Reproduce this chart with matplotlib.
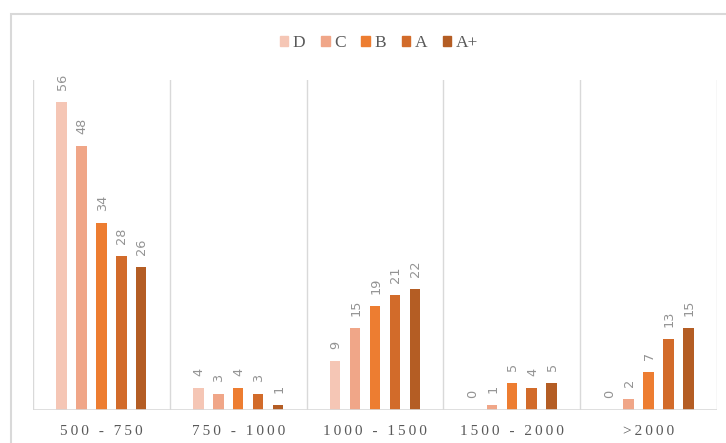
import matplotlib
matplotlib.use("Agg")
import matplotlib.pyplot as plt
from matplotlib.patches import Rectangle
import numpy as np

categories = ["500 - 750", "750 - 1000", "1000 - 1500", "1500 - 2000", ">2000"]
series = ["D", "C", "B", "A", "A+"]
values_D = [56, 4, 9, 0, 0]
values_C = [48, 3, 15, 1, 2]
values_B = [34, 4, 19, 5, 7]
values_A = [28, 3, 21, 4, 13]
values_Aplus = [26, 1, 22, 5, 15]
colors = ["#F5C6B5", "#F0A688", "#ED7D31", "#D26B2A", "#B45D24"]

all_vals = [values_D, values_C, values_B, values_A, values_Aplus]

W, H = 726, 443
fig = plt.figure(figsize=(W / 100, H / 100), dpi=100)
fig.patch.set_facecolor("white")

# outer chart border
fig.add_artist(Rectangle((11 / W, -0.05), 1.1, 1 - 14 / H + 0.05, transform=fig.transFigure,
                         fill=False, edgecolor="#D9D9D9", linewidth=1.5))

ax = fig.add_axes([33 / W, 1 - 410 / H, (717 - 33) / W, (410 - 80) / H])
ax.set_xlim(-0.5, len(categories) - 0.5)
ax.set_ylim(0, 60)
for s in ax.spines.values():
    s.set_visible(False)
ax.set_yticks([])

x = np.arange(len(categories))
step = 0.1455
bw = 0.077
for i, (name, vals, c) in enumerate(zip(series, all_vals, colors)):
    xs = x + (i - 2) * step
    ax.bar(xs, vals, width=bw, color=c, label=name, zorder=3)
    for xi, v in zip(xs, vals):
        ax.annotate(str(v), (xi, v), xytext=(0.5, 8.5), textcoords="offset points",
                    rotation=90, ha="center", va="bottom", fontsize=9.3,
                    family="DejaVu Sans", color="#939393")

# group separators and baseline
for b in np.arange(-0.5, len(categories), 1.0):
    ax.axvline(b, color="#D9D9D9", linewidth=1.0, zorder=1)
ax.axhline(0, color="#D9D9D9", linewidth=1.2, zorder=4)

def spaced(s):
    return "\u2009".join(list(s))

ax.set_xticks(x)
ax.set_xticklabels([spaced(c) for c in categories], family="Liberation Serif",
                   fontsize=11, color="#595959")
ax.tick_params(axis="x", length=0, pad=11)

handles = [Rectangle((0, 0), 1, 1, color=c) for c in colors]
fig.legend(handles, series, loc="center", bbox_to_anchor=(0.522, 1 - 43 / H), ncol=5,
           frameon=False, prop={"family": "Liberation Serif", "size": 12.5},
           labelcolor="#595959", handlelength=0.5, handleheight=0.5,
           handletextpad=0.25, columnspacing=0.9)

fig.savefig("out.png", dpi=100, facecolor="white")
